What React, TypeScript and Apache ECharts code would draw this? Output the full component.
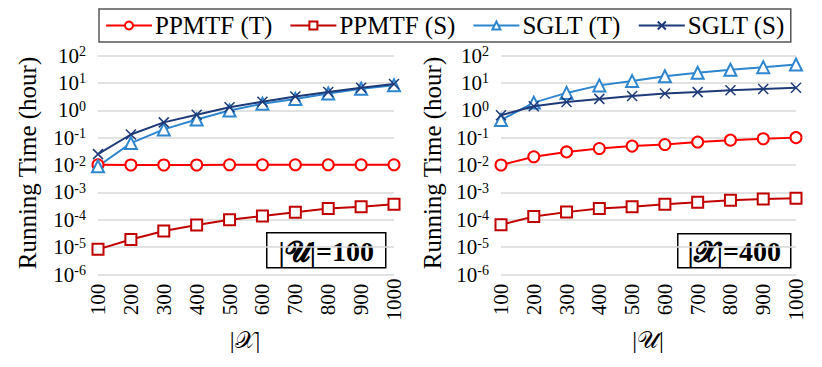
import React, { useEffect, useRef } from "react";
import * as echarts from "echarts";

const xCats = ["100", "200", "300", "400", "500", "600", "700", "800", "900", "1000"];
const seriesNames = ["PPMTF (T)", "PPMTF (S)", "SGLT (T)", "SGLT (S)"];

// Left panel: |U| = 100, varying |X|
const leftPPMTF_T = [0.0102, 0.01, 0.01, 0.01, 0.0102, 0.0102, 0.0102, 0.0102, 0.0102, 0.0102];
const leftPPMTF_S = [8.3e-6, 1.9e-5, 3.9e-5, 6.4e-5, 1.0e-4, 1.38e-4, 1.87e-4, 2.56e-4, 3.0e-4, 3.7e-4];
const leftSGLT_T = [0.009, 0.063, 0.2, 0.46, 0.98, 1.74, 2.6, 4.1, 6.1, 8.2];
const leftSGLT_S = [0.025, 0.13, 0.36, 0.69, 1.29, 2.05, 3.2, 4.65, 6.6, 9.1];

// Right panel: |X| = 400, varying |U|
const rightPPMTF_T = [0.01, 0.02, 0.03, 0.04, 0.049, 0.056, 0.069, 0.081, 0.091, 0.1];
const rightPPMTF_S = [6.6e-5, 1.32e-4, 1.9e-4, 2.6e-4, 3.0e-4, 3.7e-4, 4.4e-4, 5.2e-4, 5.7e-4, 6.1e-4];
const rightSGLT_T = [0.44, 1.9, 4.3, 8.1, 11.6, 17.4, 23.4, 30, 37.6, 47];
const rightSGLT_S = [0.66, 1.4, 2.0, 2.6, 3.3, 4.1, 4.6, 5.4, 6.0, 6.6];

const FONT = "'Liberation Serif', 'Times New Roman', serif";
const MATHFONT = "'Liberation Serif', 'DejaVu Serif', 'DejaVu Sans', 'Noto Sans', serif";

const colors = ["#FF0000", "#C00000", "#2E86CF", "#1F3A78"];
const symbols = ["emptyCircle", "emptyRect", "emptyTriangle", "path://M0,0L10,10M10,0L0,10"];
const symbolSizes = [11, 11, 12, 10];

export default function App() {
  const ref = useRef<HTMLDivElement>(null);
  useEffect(() => {
    document.body.style.margin = "0";
    const chart = echarts.init(ref.current!, null, { renderer: "svg" });

    const makeSeries = (name: string, idx: number, data: number[], axis: number) => ({
      name,
      type: "line",
      xAxisIndex: axis,
      yAxisIndex: axis,
      data,
      symbol: symbols[idx],
      symbolSize: symbolSizes[idx],
      showSymbol: true,
      lineStyle: { color: colors[idx], width: 2 },
      itemStyle: {
        color: colors[idx],
        borderColor: colors[idx],
        borderWidth: 1.5,
      },
      z: idx === 3 ? 4 : 3,
    });

    const yAxisCommon = (gridIndex: number) => ({
      type: "log",
      logBase: 10,
      gridIndex,
      min: 1e-6,
      max: 100,
      interval: 1,
      axisLine: { show: false },
      axisTick: { show: false },
      splitLine: { show: true, lineStyle: { color: "#D9D9D9", width: 1.5 } },
      axisLabel: {
        margin: 12,
        formatter: (v: number) => {
          const e = Math.round(Math.log10(v));
          return `{b|10}{s|${e}}`;
        },
        rich: {
          b: { fontFamily: FONT, fontSize: 21, color: "#000", lineHeight: 22 },
          s: { fontFamily: FONT, fontSize: 14, color: "#000", verticalAlign: "top", lineHeight: 22, padding: [0, 0, 6, 0] },
        },
      },
    });

    const xAxisCommon = (gridIndex: number) => ({
      type: "category",
      gridIndex,
      data: xCats,
      boundaryGap: false,
      axisLine: { show: false },
      axisTick: { show: false },
      splitLine: { show: false },
      axisLabel: {
        rotate: 90,
        align: "center",
        verticalAlign: "middle",
        margin: 25,
        fontFamily: FONT,
        fontSize: 21,
        color: "#000",
        interval: 0,
      },
    });

    const insetBox = (x: number, y: number, w: number, h: number, label: string) => ({
      type: "group",
      left: x,
      top: y,
      children: [
        {
          type: "rect",
          shape: { x: 0, y: 0, width: w, height: h },
          style: { fill: "#fff", stroke: "#000", lineWidth: 1.5 },
        },
        {
          type: "text",
          x: w / 2,
          y: h / 2 + 1,
          style: {
            text: label,
            fontFamily: MATHFONT,
            fontWeight: "bold",
            fontSize: 28,
            fill: "#000",
            align: "center",
            verticalAlign: "middle",
          },
        },
      ],
    });

    const option = {
      animation: false,
      backgroundColor: "#fff",
      legend: {
        data: seriesNames,
        left: 99,
        top: 9,
        orient: "horizontal",
        itemWidth: 46,
        itemHeight: 10,
        itemGap: 17,
        padding: [4, 6],
        borderColor: "#555",
        borderWidth: 1.5,
        textStyle: { fontFamily: FONT, fontSize: 25, color: "#000", padding: [0, 0, 0, -2] },
      },
      grid: [
        { left: 98, right: 428, top: 55.5, bottom: 92.5 },
        { left: 501, right: 26, top: 55.5, bottom: 92.5 },
      ],
      xAxis: [xAxisCommon(0), xAxisCommon(1)],
      yAxis: [yAxisCommon(0), yAxisCommon(1)],
      series: [
        makeSeries(seriesNames[0], 0, leftPPMTF_T, 0),
        makeSeries(seriesNames[1], 1, leftPPMTF_S, 0),
        makeSeries(seriesNames[2], 2, leftSGLT_T, 0),
        makeSeries(seriesNames[3], 3, leftSGLT_S, 0),
        makeSeries(seriesNames[0], 0, rightPPMTF_T, 1),
        makeSeries(seriesNames[1], 1, rightPPMTF_S, 1),
        makeSeries(seriesNames[2], 2, rightSGLT_T, 1),
        makeSeries(seriesNames[3], 3, rightSGLT_S, 1),
      ],
      graphic: [
        {
          type: "text",
          x: 27,
          y: 163,
          rotation: Math.PI / 2,
          style: {
            text: "Running Time (hour)",
            fontFamily: FONT,
            fontSize: 25,
            fill: "#000",
            align: "center",
            verticalAlign: "middle",
          },
        },
        {
          type: "text",
          x: 432,
          y: 163,
          rotation: Math.PI / 2,
          style: {
            text: "Running Time (hour)",
            fontFamily: FONT,
            fontSize: 25,
            fill: "#000",
            align: "center",
            verticalAlign: "middle",
          },
        },
        {
          type: "text",
          x: 245,
          y: 340,
          style: {
            text: "|𝒳|",
            fontFamily: MATHFONT,
            fontSize: 24,
            fill: "#000",
            align: "center",
            verticalAlign: "middle",
          },
        },
        {
          type: "text",
          x: 648,
          y: 340,
          style: {
            text: "|𝒰|",
            fontFamily: MATHFONT,
            fontSize: 24,
            fill: "#000",
            align: "center",
            verticalAlign: "middle",
          },
        },
        insetBox(266, 232, 119, 35, "|𝓤|=100"),
        insetBox(677, 233, 113, 34, "|𝓧|=400"),
      ],
    };

    chart.setOption(option as any);
    return () => chart.dispose();
  }, []);

  return <div ref={ref} style={{ width: 822, height: 367 }} />;
}
